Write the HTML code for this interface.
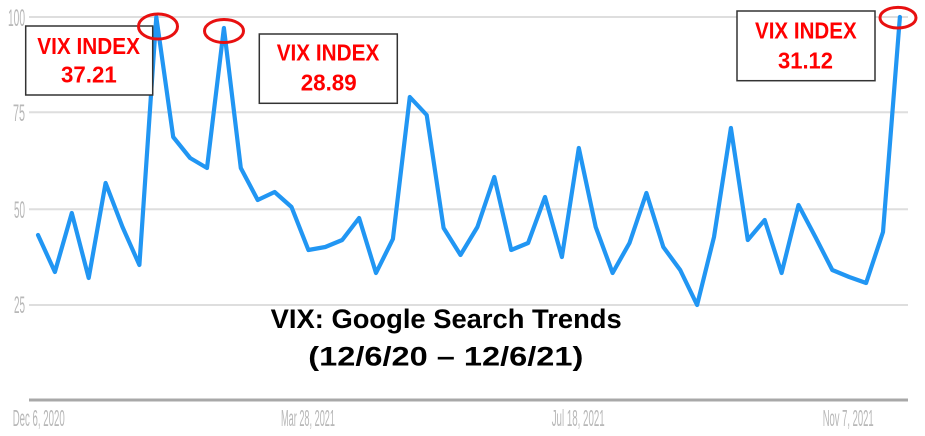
<!DOCTYPE html>
<html>
<head>
<meta charset="utf-8">
<style>
  html, body { margin: 0; padding: 0; background: #ffffff; }
  body { width: 925px; height: 436px; overflow: hidden; }
  svg { display: block; }
</style>
</head>
<body>
<svg width="925" height="436" viewBox="0 0 925 436" xmlns="http://www.w3.org/2000/svg">
  <rect x="0" y="0" width="925" height="436" fill="#ffffff"/>

  <!-- gridlines -->
  <g stroke="#dedede" stroke-width="2">
    <line x1="29" y1="17" x2="908" y2="17"/>
    <line x1="29" y1="112.3" x2="908" y2="112.3"/>
    <line x1="29" y1="209.3" x2="908" y2="209.3"/>
    <line x1="29" y1="305" x2="908" y2="305"/>
  </g>
  <!-- baseline -->
  <line x1="29" y1="400" x2="908" y2="400" stroke="#a8a8a8" stroke-width="3"/>

  <!-- y labels -->
  <g font-family="Liberation Sans, sans-serif" font-size="24" fill="#b8b8b8">
    <text x="8" y="26" textLength="17" lengthAdjust="spacingAndGlyphs">100</text>
    <text x="13" y="121" textLength="12" lengthAdjust="spacingAndGlyphs">75</text>
    <text x="14" y="218" textLength="11" lengthAdjust="spacingAndGlyphs">50</text>
    <text x="14" y="313" textLength="11" lengthAdjust="spacingAndGlyphs">25</text>
  </g>

  <!-- x labels -->
  <g font-family="Liberation Sans, sans-serif" font-size="23" fill="#b8b8b8">
    <text x="12.7" y="426" textLength="52" lengthAdjust="spacingAndGlyphs">Dec 6, 2020</text>
    <text x="281" y="426" textLength="54" lengthAdjust="spacingAndGlyphs">Mar 28, 2021</text>
    <text x="551.7" y="426" textLength="53" lengthAdjust="spacingAndGlyphs">Jul 18, 2021</text>
    <text x="822.7" y="426" textLength="51" lengthAdjust="spacingAndGlyphs">Nov 7, 2021</text>
  </g>

  <!-- data line -->
  <polyline fill="none" stroke="#2196f3" stroke-width="4.2" stroke-linejoin="round" stroke-linecap="round"
    points="38,235 54.9,272 71.8,213 88.7,278 105.6,183 122.5,227 139.4,265 156.3,17 173.2,137 190.1,158 207,168 223.9,28 240.8,168 257.7,200 274.6,192 291.5,207 308.4,250 325.3,247 342.2,240 359.1,218 376,273 392.9,239 409.8,97 426.7,115 443.6,228 460.5,255 477.4,227 494.3,177 511.2,250 528.1,243 545,197 561.9,257 578.8,148 595.7,227 612.6,273 629.5,243 646.4,193 663.3,247 680.2,270 697.1,305 714,237 730.9,128 747.8,240 764.7,220 781.6,273 798.5,205 815.4,237 832.3,270 849.2,277 866.1,283 883,232 899.9,17"/>

  <!-- annotation boxes -->
  <g fill="#ffffff" stroke="#333333" stroke-width="1.5">
    <rect x="25.7" y="26" width="127" height="69"/>
    <rect x="259.3" y="34" width="138" height="69.3"/>
    <rect x="737" y="11" width="138" height="69.7"/>
  </g>
  <g font-family="Liberation Sans, sans-serif" font-weight="bold" font-size="23" fill="#ff0000">
    <text x="37.3" y="54" textLength="102.7" lengthAdjust="spacingAndGlyphs">VIX INDEX</text>
    <text x="61" y="82.7" textLength="55.7" lengthAdjust="spacingAndGlyphs">37.21</text>
    <text x="276.7" y="60.7" textLength="102.6" lengthAdjust="spacingAndGlyphs">VIX INDEX</text>
    <text x="300.7" y="90.7" textLength="56" lengthAdjust="spacingAndGlyphs">28.89</text>
    <text x="755" y="38.3" textLength="101.7" lengthAdjust="spacingAndGlyphs">VIX INDEX</text>
    <text x="778" y="68.3" textLength="55" lengthAdjust="spacingAndGlyphs">31.12</text>
  </g>

  <!-- red circles -->
  <g fill="none" stroke="#e81010" stroke-width="3">
    <ellipse cx="158" cy="26.5" rx="19.5" ry="12.5"/>
    <ellipse cx="224" cy="31" rx="19.5" ry="11.5"/>
    <ellipse cx="898" cy="17.7" rx="18" ry="10.3"/>
  </g>

  <!-- title -->
  <g font-family="Liberation Sans, sans-serif" font-weight="bold" font-size="27" fill="#000000">
    <text x="270.7" y="328" textLength="351" lengthAdjust="spacingAndGlyphs">VIX: Google Search Trends</text>
    <text x="308.3" y="365.5" textLength="275" lengthAdjust="spacingAndGlyphs">(12/6/20 – 12/6/21)</text>
  </g>
</svg>
</body>
</html>
